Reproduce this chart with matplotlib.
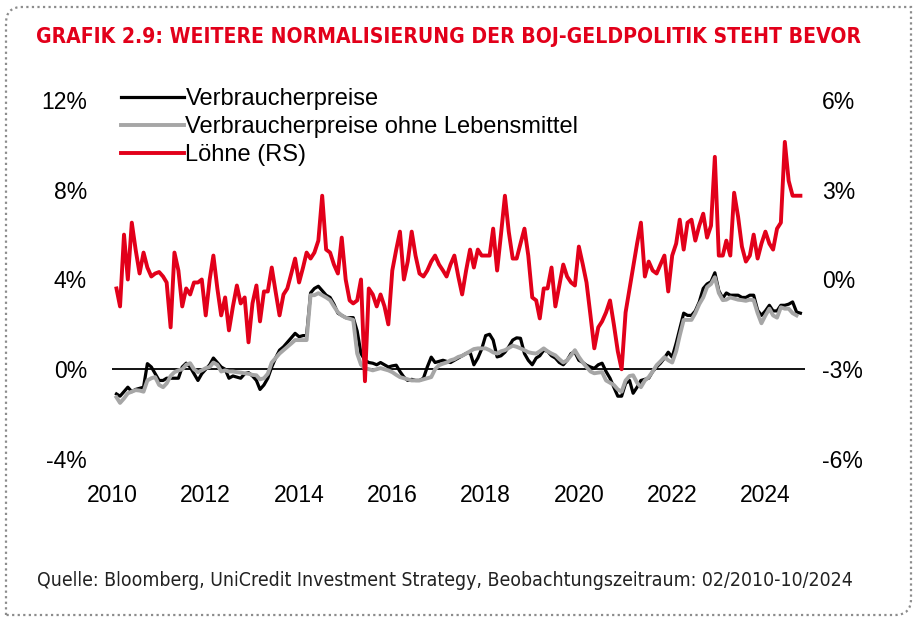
import numpy as np
import pandas as pd
import matplotlib
matplotlib.use("Agg")
import matplotlib.pyplot as plt
from matplotlib.path import Path
from matplotlib.patches import PathPatch

# monthly data, 02/2010 - 10/2024 (in %)
cpi = [
    -1.1, -1.2, -1.0, -0.8, -1.0, -0.9, -0.85, -0.8, 0.25, 0.1, -0.2, -0.5,
    -0.5, -0.4, -0.4, -0.4, -0.4, 0.1, 0.27, 0.1, -0.2, -0.5, -0.2, 0.0,
    0.2, 0.5, 0.3, 0.1, 0.0, -0.4, -0.3, -0.35, -0.4, -0.2, -0.15, -0.3,
    -0.5, -0.9, -0.7, -0.4, 0.1, 0.5, 0.85, 1.0, 1.2, 1.4, 1.6, 1.45,
    1.5, 1.5, 3.4, 3.6, 3.7, 3.5, 3.3, 3.2, 2.9, 2.5, 2.4, 2.3,
    2.3, 2.3, 1.7, 0.7, 0.4, 0.3, 0.27, 0.2, 0.3, 0.2, 0.1, 0.15,
    0.18, -0.1, -0.35, -0.5, -0.45, -0.5, -0.5, -0.4, 0.1, 0.54, 0.3, 0.35,
    0.4, 0.35, 0.3, 0.4, 0.5, 0.6, 0.7, 0.76, 0.2, 0.5, 0.9, 1.5,
    1.56, 1.3, 0.55, 0.6, 0.76, 1.0, 1.3, 1.4, 1.38, 0.7, 0.4, 0.2,
    0.5, 0.6, 0.85, 0.8, 0.6, 0.5, 0.3, 0.2, 0.4, 0.7, 0.76, 0.4,
    0.3, 0.18, 0.1, 0.04, 0.2, 0.27, -0.1, -0.4, -0.8, -1.2, -1.2, -0.63,
    -0.5, -1.07, -0.8, -0.5, -0.45, -0.4, -0.1, 0.1, 0.27, 0.5, 0.76, 0.54,
    1.16, 1.8, 2.5, 2.4, 2.4, 2.6, 3.0, 3.6, 3.8, 3.9, 4.3, 3.5,
    3.17, 3.4, 3.3, 3.3, 3.3, 3.2, 3.2, 3.3, 3.3, 2.63, 2.4, 2.6,
    2.85, 2.6, 2.6, 2.85, 2.85, 2.9, 3.0, 2.55, 2.5,
]
cpi_core = [
    -1.25, -1.5, -1.3, -1.07, -1.0, -0.93, -0.95, -1.0, -0.5, -0.4, -0.35, -0.7,
    -0.8, -0.63, -0.3, -0.13, -0.05, 0.0, 0.2, 0.27, 0.0, -0.13, -0.05, 0.05,
    0.1, 0.3, 0.2, -0.1, -0.05, -0.1, -0.1, -0.13, -0.15, -0.18, -0.2, -0.25,
    -0.27, -0.45, -0.4, -0.2, 0.3, 0.5, 0.7, 0.85, 1.0, 1.15, 1.3, 1.3,
    1.3, 1.3, 3.3, 3.3, 3.39, 3.3, 3.2, 3.08, 2.8, 2.54, 2.4, 2.3,
    2.25, 2.2, 0.7, 0.2, 0.05, 0.0, -0.05, 0.0, 0.05, 0.0, -0.05, -0.13,
    -0.25, -0.35, -0.4, -0.45, -0.5, -0.5, -0.5, -0.45, -0.4, -0.35, 0.0, 0.18,
    0.25, 0.3, 0.4, 0.45, 0.55, 0.6, 0.7, 0.8, 0.9, 0.93, 0.93, 0.93,
    0.85, 0.75, 0.7, 0.8, 0.85, 0.95, 1.05, 1.0, 0.93, 0.85, 0.76, 0.72,
    0.7, 0.8, 0.93, 0.8, 0.7, 0.62, 0.45, 0.3, 0.4, 0.62, 0.85, 0.55,
    0.3, 0.1, -0.1, -0.18, -0.15, -0.13, -0.5, -0.6, -0.7, -0.9, -1.0, -0.5,
    -0.3, -0.27, -0.6, -0.8, -0.5, -0.35, -0.1, 0.18, 0.35, 0.54, 0.4, 0.3,
    0.8, 1.5, 2.2, 2.2, 2.2, 2.5, 2.9, 3.2, 3.66, 3.8, 4.1, 3.4,
    3.08, 3.1, 3.2, 3.15, 3.1, 3.08, 3.05, 3.1, 3.08, 2.5, 2.05, 2.4,
    2.7, 2.4, 2.3, 2.76, 2.7, 2.7, 2.5, 2.4, np.nan,
]
wages = [
    -0.3, -0.9, 1.5, 0.0, 1.9, 1.0, 0.2, 0.9, 0.4, 0.1, 0.2, 0.25,
    0.1, -0.1, -1.6, 0.9, 0.3, -0.9, -0.3, -0.5, -0.1, -0.1, 0.0, -1.2,
    0.0, 0.8, -0.3, -1.2, -0.6, -1.7, -0.9, -0.2, -0.8, -0.6, -2.1, -0.8,
    -0.2, -1.4, -0.4, -0.4, 0.4, -0.4, -1.2, -0.5, -0.3, 0.2, 0.7, -0.1,
    0.4, 0.9, 0.7, 0.9, 1.3, 2.8, 1.0, 0.9, 0.5, 0.2, 1.4, 0.0,
    -0.7, -0.8, -0.7, 0.0, -3.4, -0.3, -0.5, -0.9, -0.5, -0.9, -1.5, 0.3,
    1.0, 1.6, 0.0, 0.6, 1.6, 0.8, 0.2, 0.1, 0.3, 0.6, 0.8, 0.5,
    0.3, 0.1, 0.5, 0.8, 0.1, -0.5, 0.3, 1.0, 0.4, 1.0, 0.8, 0.8,
    0.8, 1.7, 0.3, 1.5, 2.8, 1.6, 0.7, 0.7, 1.2, 1.7, 0.8, -0.6,
    -0.7, -1.3, -0.3, -0.3, 0.4, -0.9, -0.2, 0.5, 0.1, -0.1, -0.2, 1.1,
    0.5, -0.1, -1.2, -2.3, -1.6, -1.4, -1.1, -0.7, -1.5, -2.4, -3.0, -1.1,
    -0.3, 0.4, 1.2, 1.9, 0.1, 0.6, 0.3, 0.2, 0.5, 0.8, -0.4, 0.8,
    1.2, 2.0, 1.0, 1.9, 2.0, 1.3, 1.8, 2.2, 1.4, 1.8, 4.1, 0.8,
    0.8, 1.3, 0.8, 2.9, 2.1, 1.1, 0.6, 0.8, 1.5, 0.7, 1.2, 1.6,
    1.2, 1.0, 1.7, 1.9, 4.6, 3.3, 2.8, 2.8, 2.8,
]
dates = pd.date_range("2010-02-01", periods=len(wages), freq="MS")

left_ticks = [-4, 0, 4, 8, 12]
right_ticks = [-6, -3, 0, 3, 6]
year_ticks = [2010, 2012, 2014, 2016, 2018, 2020, 2022, 2024]

title = "GRAFIK 2.9: WEITERE NORMALISIERUNG DER BOJ-GELDPOLITIK STEHT BEVOR"
source = "Quelle: Bloomberg, UniCredit Investment Strategy, Beobachtungszeitraum: 02/2010-10/2024"

RED = "#e2001a"
GREY = "#a6a6a6"
plt.rcParams["font.family"] = ["Liberation Sans", "DejaVu Sans"]

W, H = 923, 626
fig = plt.figure(figsize=(W / 100, H / 100), dpi=100)

def fx(px):
    return px / W

def fy(py):
    return 1 - py / H

ax = fig.add_axes([fx(112), fy(459), fx(805) - fx(112), fy(100) - fy(459)])
ax2 = ax.twinx()

l1, = ax.plot(dates, cpi, color="black", lw=2.3, label="Verbraucherpreise",
              solid_joinstyle="round")
l2, = ax.plot(dates, cpi_core, color=GREY, lw=2.8,
              label="Verbraucherpreise ohne Lebensmittel", solid_joinstyle="round")
ax.axhline(0, color="black", lw=1.3, zorder=1)
l3, = ax2.plot(dates, wages, color=RED, lw=2.8, label="Löhne (RS)",
               solid_joinstyle="round")

ax.set_ylim(-4, 12)
ax2.set_ylim(-6, 6)
ax.set_xlim(pd.Timestamp("2009-12-28"), pd.Timestamp("2024-11-06"))
ax.set_yticks(left_ticks)
ax.set_yticklabels([f"{v}%" for v in left_ticks])
ax2.set_yticks(right_ticks)
ax2.set_yticklabels([f"{v}%" for v in right_ticks])
ax.set_xticks([pd.Timestamp(f"{y}-01-01") for y in year_ticks])
ax.set_xticklabels([str(y) for y in year_ticks])

for a in (ax, ax2):
    for s in a.spines.values():
        s.set_visible(False)
ax.tick_params(axis="y", length=0, labelsize=16.5, pad=18)
ax.tick_params(axis="x", length=0, labelsize=16.5, pad=18)
ax2.tick_params(axis="y", length=0, labelsize=16.5, pad=12)

fig.legend(handles=[l1, l2, l3], loc="upper left",
           bbox_to_anchor=(fx(121), fy(88)), frameon=False, fontsize=17,
           borderpad=0, borderaxespad=0, handlelength=2.65, handletextpad=0.08,
           labelspacing=0.26)

t_title = fig.text(fx(36), fy(37), title, color=RED, fontsize=16,
                   fontweight="bold", va="center", fontstretch="condensed",
                   family=["DejaVu Sans"])
t_src = fig.text(fx(37), fy(580), source, color="#222222", fontsize=15,
                 va="center", fontstretch="condensed", family=["DejaVu Sans"])

# shrink the two long lines so they span the same width as in the original
fig.canvas.draw()
for t, target in ((t_title, 824), (t_src, 820)):
    w = t.get_window_extent().width
    t.set_fontsize(t.get_fontsize() * target / w)

# dotted frame with rounded top-left and bottom-right corners
x0, x1, y0, y1, r = 6, 911, 7, 615, 16
verts = [(x0, y1), (x0, y0 + r), (x0, y0), (x0 + r, y0), (x1, y0),
         (x1, y1 - r), (x1, y1), (x1 - r, y1), (x0, y1)]
codes = [Path.MOVETO, Path.LINETO, Path.CURVE3, Path.CURVE3, Path.LINETO,
         Path.LINETO, Path.CURVE3, Path.CURVE3, Path.LINETO]
frame = Path([(fx(a), fy(b)) for a, b in verts], codes)
fig.patches.append(PathPatch(frame, transform=fig.transFigure, fill=False,
                             edgecolor="#8c8c8c", lw=1.6, linestyle=(0, (1, 1.5))))

fig.savefig("out.png", dpi=100)
